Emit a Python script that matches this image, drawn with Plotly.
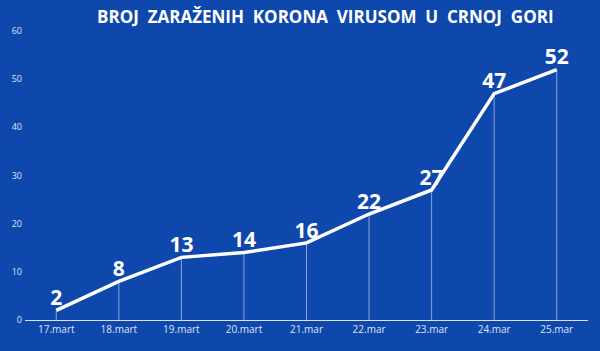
import plotly.graph_objects as go

dates = ["17.mart", "18.mart", "19.mart", "20.mart", "21.mar", "22.mar", "23.mar", "24.mar", "25.mar"]
cases = [2, 8, 13, 14, 16, 22, 27, 47, 52]
y_ticks = [0, 10, 20, 30, 40, 50, 60]
title = "BROJ  ZARAŽENIH  KORONA  VIRUSOM  U  CRNOJ  GORI"

bg = "#0f48ac"

drop_x, drop_y = [], []
for d, v in zip(dates, cases):
    drop_x += [d, d, None]
    drop_y += [0, v, None]

fig = go.Figure()
fig.add_trace(go.Scatter(x=drop_x, y=drop_y, mode="lines",
                         line=dict(color="rgba(255,255,255,0.5)", width=1),
                         hoverinfo="skip", showlegend=False))
fig.add_trace(go.Scatter(x=dates, y=cases, mode="lines+text",
                         text=[str(c) for c in cases], textposition="top center",
                         textfont=dict(family="Open Sans", size=21, color="white", weight="bold"),
                         line=dict(color="white", width=3.5),
                         showlegend=False))

fig.update_layout(
    width=600, height=351,
    margin=dict(l=20, r=12, t=31, b=31),
    paper_bgcolor=bg, plot_bgcolor=bg,
    annotations=[dict(text="<b>" + title + "</b>", x=(323 - 20) / 568, y=1 + (31 - 16) / 289,
                      xref="paper", yref="paper", showarrow=False,
                      xanchor="center", yanchor="middle",
                      font=dict(family="Open Sans", size=17, color="white"))],
)
fig.update_xaxes(type="category", range=[-0.5, 8.5], showgrid=False, zeroline=False,
                 showline=True, linecolor="rgba(255,255,255,0.85)", linewidth=1,
                 ticks="", tickfont=dict(family="Open Sans", size=10, color="#dde4f2"))
fig.update_yaxes(range=[0, 60], tickvals=y_ticks, showgrid=False, zeroline=False,
                 showline=False, ticks="", ticklabelstandoff=2,
                 tickfont=dict(family="Open Sans", size=9, color="#dde4f2"))
fig.write_html("out.html")
